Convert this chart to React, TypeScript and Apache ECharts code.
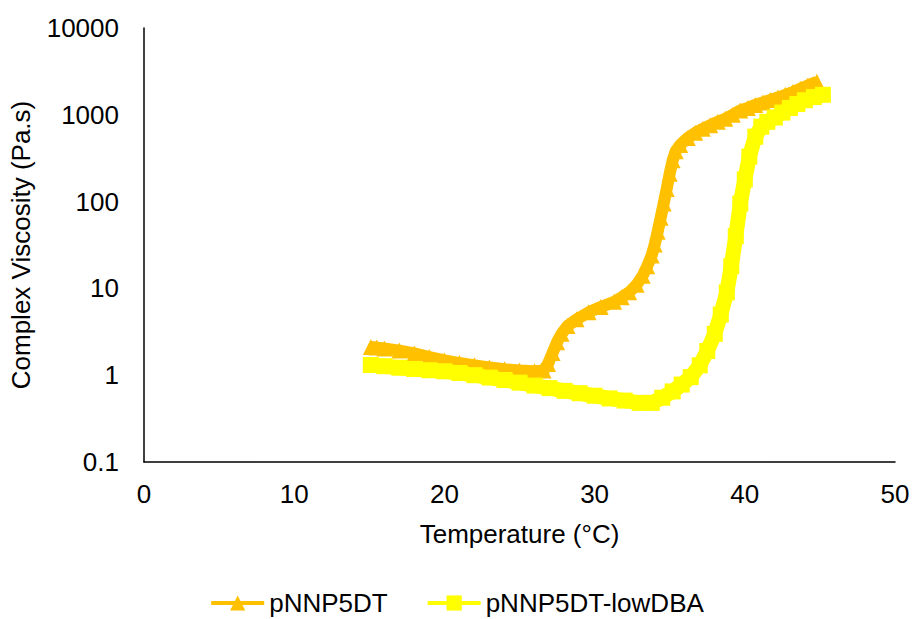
import React, { useEffect, useRef } from "react";
import * as echarts from "echarts";

// Temperature sweep (°C) and complex viscosity (Pa.s) for each formulation
const tempA = [15.1, 15.5, 16, 17, 18, 19, 20, 21, 22, 23, 24, 25, 26, 26.6, 26.9, 27.2, 27.5, 27.8, 28.2, 28.8, 29.6, 30.4, 31.3, 31.8, 32.3, 32.8, 33.2, 33.5, 33.8, 34.0, 34.2, 34.4, 34.6, 34.8, 35.0, 35.2, 35.4, 35.7, 36.2, 36.7, 37.2, 37.7, 38.2, 38.7, 39.2, 39.7, 40.2, 40.7, 41.2, 41.7, 42.2, 42.7, 43.2, 43.7, 44.2, 44.8];
const viscA = [2.11, 2.08, 2.03, 1.92, 1.78, 1.62, 1.48, 1.38, 1.3, 1.23, 1.17, 1.13, 1.11, 1.13, 1.35, 1.8, 2.4, 3.0, 3.7, 4.4, 5.3, 6.1, 7.0, 7.9, 9.0, 11, 14, 18, 24, 32, 45, 65, 95, 140, 210, 300, 380, 450, 540, 620, 690, 760, 830, 900, 1000, 1120, 1200, 1300, 1390, 1480, 1580, 1700, 1830, 2000, 2180, 2400];

const tempB = [15.1, 16, 17, 18, 19, 20, 21, 22, 23, 24, 25, 26, 27, 28, 29, 30, 31, 32, 33, 33.8, 34.5, 35.2, 35.8, 36.4, 37.0, 37.5, 38.0, 38.4, 38.8, 39.1, 39.4, 39.7, 40.0, 40.3, 40.7, 41.1, 41.5, 42.0, 42.5, 43.0, 43.5, 44.0, 44.6, 45.2];
const viscB = [1.31, 1.27, 1.22, 1.18, 1.14, 1.11, 1.06, 1.0, 0.94, 0.88, 0.82, 0.76, 0.71, 0.66, 0.62, 0.58, 0.54, 0.51, 0.48, 0.48, 0.55, 0.65, 0.78, 0.95, 1.3, 1.9, 3.0, 5.0, 9, 18, 40, 95, 180, 330, 560, 730, 830, 930, 1060, 1200, 1330, 1470, 1600, 1700];

const seriesNames = ["pNNP5DT", "pNNP5DT-lowDBA"];
const xTicks = [0, 10, 20, 30, 40, 50];
const yTicks = [0.1, 1, 10, 100, 1000, 10000];

const FONT = "'Liberation Sans', Arial, sans-serif";
const FS = 26;

const pairs = (xs: number[], ys: number[]) => xs.map((x, i) => [x, ys[i]]);

export default function App() {
  const ref = useRef<HTMLDivElement>(null);

  useEffect(() => {
    if (!ref.current) return;
    const chart = echarts.init(ref.current, null, { renderer: "svg" });
    chart.setOption({
      animation: false,
      backgroundColor: "#ffffff",
      textStyle: { fontFamily: FONT },
      grid: { left: 144, right: 18, top: 28, bottom: 157 },
      xAxis: {
        type: "value",
        min: xTicks[0],
        max: xTicks[xTicks.length - 1],
        interval: xTicks[1] - xTicks[0],
        name: "Temperature (°C)",
        nameLocation: "middle",
        nameGap: 59,
        nameTextStyle: { fontSize: FS, color: "#000", fontFamily: FONT },
        axisLine: { lineStyle: { color: "#000", width: 1.5 } },
        axisTick: { show: false },
        splitLine: { show: false },
        axisLabel: { fontSize: FS, color: "#000", margin: 19, fontFamily: FONT },
      },
      yAxis: {
        type: "log",
        logBase: 10,
        min: yTicks[0],
        max: yTicks[yTicks.length - 1],
        name: "Complex Viscosity (Pa.s)",
        nameLocation: "middle",
        nameGap: 110,
        nameRotate: 90,
        nameTextStyle: { fontSize: FS, color: "#000", fontFamily: FONT },
        axisLine: { show: true, lineStyle: { color: "#000", width: 1.5 } },
        axisTick: { show: false },
        splitLine: { show: false },
        axisLabel: {
          fontSize: FS,
          color: "#000",
          margin: 25,
          fontFamily: FONT,
          formatter: (v: number) => {
            const t = yTicks.find((k) => Math.abs(k - v) / k < 1e-6);
            return t !== undefined ? String(t) : "";
          },
        },
      },
      legend: {
        top: 590,
        left: "center",
        padding: [0, 5],
        itemWidth: 53,
        itemHeight: 19,
        itemGap: 38,
        lineStyle: { width: 4 },
        textStyle: { fontSize: FS, color: "#000", fontFamily: FONT, lineHeight: 26 },
        data: seriesNames,
      },
      series: [
        {
          name: seriesNames[0],
          type: "line",
          data: pairs(tempA, viscA),
          color: "#FFC000",
          symbol: "triangle",
          symbolSize: 16,
          showAllSymbol: true,
          lineStyle: { color: "#FFC000", width: 12, cap: "butt", join: "round" },
          itemStyle: { color: "#FFC000" },
        },
        {
          name: seriesNames[1],
          type: "line",
          data: pairs(tempB, viscB),
          color: "#FFFF00",
          symbol: "rect",
          symbolSize: 16,
          showAllSymbol: true,
          lineStyle: { color: "#FFFF00", width: 15, cap: "butt", join: "round" },
          itemStyle: { color: "#FFFF00" },
        },
      ],
    });
    return () => chart.dispose();
  }, []);

  return (
    <div
      ref={ref}
      style={{ position: "fixed", left: 0, top: 0, width: 913, height: 619, background: "#fff" }}
    />
  );
}
